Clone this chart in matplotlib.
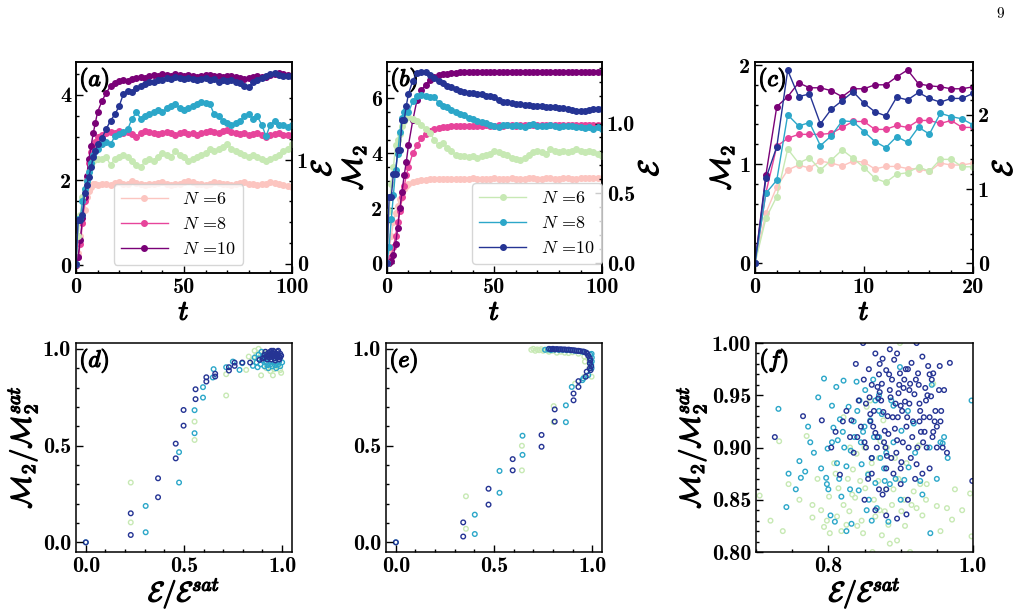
import matplotlib
matplotlib.use("Agg")
import matplotlib.pyplot as plt
import matplotlib.patheffects as pe
from matplotlib.ticker import MultipleLocator, AutoMinorLocator

plt.rcParams["mathtext.fontset"] = "cm"
plt.rcParams["font.family"] = "cmb10"
plt.rcParams["axes.unicode_minus"] = False
plt.rcParams["axes.linewidth"] = 1.1

# colours (M2 family / epsilon family)
col_m6, col_m8, col_m10 = "#fcc5c0", "#e7449b", "#7a0177"
col_e6, col_e8, col_e10 = "#c7e9b4", "#2ca7c9", "#253494"

# ---------------- data: time panels ----------------
t_long = list(range(11)) + list(range(12, 101, 2))
t_short = list(range(21))

# panel (a)
a_m6 = [0, 0.3, 0.7, 1.0, 1.3, 1.6, 1.75, 1.85, 1.9, 1.9, 1.88,
        1.90, 1.92, 1.88, 1.93, 1.95, 1.90, 1.92, 1.97, 1.93, 1.90,
        1.88, 1.92, 1.90, 1.93, 1.95, 1.90, 1.88, 1.90, 1.92, 1.95,
        1.98, 1.95, 1.92, 1.90, 1.88, 1.92, 1.95, 1.93, 1.90, 1.92,
        1.88, 1.90, 1.93, 1.95, 1.92, 1.90, 1.88, 1.90, 1.92, 1.95,
        1.93, 1.90, 1.88, 1.87, 1.85]
a_m8 = [0, 0.2, 0.5, 1.0, 1.5, 2.0, 2.4, 2.65, 2.8, 2.9, 3.0,
        3.05, 3.10, 3.12, 3.10, 3.15, 3.10, 3.12, 3.08, 3.00, 3.10,
        3.15, 3.12, 3.10, 3.08, 3.10, 3.12, 3.10, 3.05, 3.10, 3.12,
        3.08, 3.10, 3.05, 3.10, 3.12, 3.15, 3.12, 3.10, 3.15, 3.18,
        3.12, 3.10, 3.08, 3.10, 3.05, 3.08, 3.10, 3.05, 3.02, 3.05,
        3.08, 3.10, 3.05, 3.05, 3.05]
a_m10 = [0, 0.2, 0.6, 1.1, 1.6, 2.1, 2.5, 2.8, 3.1, 3.35, 3.6,
         3.85, 4.05, 4.20, 4.28, 4.32, 4.35, 4.33, 4.38, 4.40, 4.42,
         4.40, 4.45, 4.47, 4.45, 4.48, 4.47, 4.45, 4.48, 4.46, 4.45,
         4.47, 4.45, 4.43, 4.45, 4.47, 4.46, 4.44, 4.45, 4.43, 4.44,
         4.45, 4.43, 4.40, 4.37, 4.40, 4.42, 4.45, 4.43, 4.42, 4.47,
         4.50, 4.52, 4.48, 4.47, 4.45]
a_e6 = [0, 0.27, 0.47, 0.64, 0.72, 0.80, 0.88, 0.95, 0.99, 1.01, 1.01,
        1.01, 1.03, 0.95, 1.01, 1.03, 1.05, 1.03, 0.99, 0.95, 0.93,
        0.99, 1.01, 0.99, 1.03, 1.07, 1.05, 1.03, 1.09, 1.05, 1.03,
        0.99, 1.01, 1.03, 1.05, 1.07, 1.11, 1.09, 1.11, 1.13, 1.15,
        1.11, 1.09, 1.07, 1.05, 1.03, 1.05, 1.03, 1.01, 0.99, 1.01,
        1.03, 1.05, 1.09, 1.11, 1.15]
a_e8 = [0, 0.43, 0.43, 0.60, 0.72, 0.80, 0.88, 0.97, 1.05, 1.09, 1.11,
        1.15, 1.17, 1.15, 1.23, 1.25, 1.27, 1.30, 1.40, 1.46, 1.40,
        1.42, 1.44, 1.46, 1.48, 1.46, 1.50, 1.52, 1.54, 1.50, 1.48,
        1.50, 1.52, 1.54, 1.56, 1.55, 1.54, 1.44, 1.42, 1.38, 1.36,
        1.34, 1.36, 1.38, 1.42, 1.44, 1.40, 1.42, 1.34, 1.23, 1.34,
        1.38, 1.34, 1.34, 1.32, 1.34]
a_e10 = [0, 0.42, 0.42, 0.47, 0.68, 0.76, 0.84, 0.93, 1.03, 1.09, 1.15,
         1.21, 1.30, 1.38, 1.44, 1.52, 1.64, 1.67, 1.66, 1.69, 1.71,
         1.73, 1.75, 1.75, 1.77, 1.77, 1.79, 1.78, 1.80, 1.79, 1.78,
         1.79, 1.78, 1.77, 1.78, 1.79, 1.77, 1.78, 1.75, 1.77, 1.76,
         1.77, 1.75, 1.74, 1.71, 1.70, 1.75, 1.77, 1.79, 1.81, 1.83,
         1.84, 1.82, 1.81, 1.81, 1.81]

# panel (b)
b_m6 = [0, 0.5, 1.0, 1.5, 1.85, 2.1, 2.35, 2.55, 2.7, 2.8, 2.87,
        2.95, 3.00, 3.02, 3.04, 3.05, 3.06, 3.05, 3.07, 3.08, 3.06,
        3.07, 3.08, 3.06, 3.08, 3.09, 3.07, 3.08, 3.06, 3.07, 3.09,
        3.08, 3.06, 3.07, 3.09, 3.08, 3.07, 3.08, 3.10, 3.09, 3.08,
        3.07, 3.09, 3.10, 3.08, 3.07, 3.09, 3.10, 3.08, 3.07, 3.09,
        3.10, 3.11, 3.09, 3.10, 3.12]
b_m8 = [0, 0.1, 0.25, 0.6, 1.0, 1.5, 1.9, 2.4, 2.8, 3.2, 3.5,
        4.00, 4.30, 4.55, 4.70, 4.80, 4.87, 4.92, 4.95, 4.97, 4.98,
        4.99, 5.00, 5.00, 5.01, 5.00, 5.01, 5.01, 5.02, 5.01, 5.01,
        5.02, 5.01, 5.02, 5.02, 5.01, 5.02, 5.02, 5.03, 5.02, 5.02,
        5.03, 5.02, 5.02, 5.03, 5.02, 5.03, 5.02, 5.03, 5.03, 5.02,
        5.03, 5.03, 5.02, 5.03, 5.03]
b_m10 = [0, 0.0, 0.1, 0.3, 0.7, 1.3, 2.0, 2.6, 3.2, 3.7, 4.3,
         5.20, 5.95, 6.30, 6.50, 6.68, 6.78, 6.84, 6.88, 6.90, 6.92,
         6.93, 6.94, 6.95, 6.95, 6.96, 6.96, 6.96, 6.97, 6.97, 6.97,
         6.97, 6.97, 6.97, 6.97, 6.97, 6.97, 6.97, 6.97, 6.97, 6.97,
         6.97, 6.97, 6.97, 6.97, 6.97, 6.97, 6.97, 6.97, 6.97, 6.97,
         6.97, 6.97, 6.97, 6.97, 6.97]
b_e6 = [0, 0.373, 0.570, 0.687, 0.844, 0.884, 0.922, 0.981, 1.021, 1.041, 1.050,
        1.030, 1.021, 0.991, 0.962, 0.932, 0.884, 0.844, 0.864, 0.824, 0.805,
        0.776, 0.765, 0.765, 0.761, 0.765, 0.756, 0.765, 0.776, 0.785, 0.805,
        0.795, 0.785, 0.776, 0.756, 0.745, 0.736, 0.756, 0.776, 0.795, 0.805,
        0.795, 0.785, 0.815, 0.805, 0.795, 0.805, 0.795, 0.805, 0.815, 0.805,
        0.795, 0.805, 0.795, 0.785, 0.765]
b_e8 = [0, 0.118, 0.314, 0.491, 0.667, 0.785, 0.94, 1.041, 1.079, 1.099, 1.079,
        1.158, 1.198, 1.207, 1.198, 1.187, 1.187, 1.148, 1.128, 1.119, 1.099,
        1.079, 1.070, 1.059, 1.040, 1.030, 1.021, 1.011, 1.001, 0.991, 0.981,
        0.972, 0.991, 0.991, 0.981, 0.991, 0.981, 0.978, 0.991, 0.996, 0.981,
        0.985, 0.981, 0.991, 0.981, 0.978, 0.981, 0.985, 0.981, 0.972, 0.978,
        0.965, 0.972, 0.962, 0.972, 0.962]
b_e10 = [0.0, 0.475, 0.475, 0.642, 0.642, 0.808, 0.808, 1.025, 1.025, 1.128, 1.213,
         1.307, 1.363, 1.372, 1.368, 1.344, 1.325, 1.307, 1.288, 1.269, 1.260,
         1.250, 1.231, 1.227, 1.217, 1.217, 1.208, 1.208, 1.199, 1.199, 1.189,
         1.166, 1.156, 1.154, 1.147, 1.142, 1.137, 1.135, 1.131, 1.128, 1.123,
         1.123, 1.119, 1.119, 1.115, 1.111, 1.109, 1.103, 1.100, 1.093, 1.089,
         1.089, 1.095, 1.103, 1.105, 1.107]

# panel (c)
c_m6 = [0, 0.505, 0.77, 0.94, 0.99, 0.96, 1.03, 1.01, 0.98, 1.03, 1.02,
        0.95, 0.976, 0.976, 0.955, 0.95, 0.925, 1.01, 0.99, 0.99, 1.01]
c_m8 = [0, 0.71, 1.18, 1.26, 1.30, 1.30, 1.30, 1.31, 1.37, 1.43, 1.43,
        1.35, 1.35, 1.39, 1.37, 1.44, 1.44, 1.41, 1.44, 1.37, 1.37]
c_m10 = [0, 0.89, 1.58, 1.68, 1.82, 1.77, 1.77, 1.74, 1.68, 1.76, 1.76,
         1.80, 1.80, 1.88, 1.95, 1.81, 1.79, 1.78, 1.76, 1.76, 1.78]
c_e6 = [0, 0.606, 0.9, 1.54, 1.35, 1.42, 1.257, 1.39, 1.527, 1.415, 1.29,
        1.146, 1.09, 1.2, 1.22, 1.30, 1.24, 1.40, 1.40, 1.30, 1.30]
c_e8 = [0, 0.943, 1.12, 2.0, 1.85, 1.895, 1.585, 1.716, 1.918, 1.908, 1.774,
        1.64, 1.558, 1.706, 1.63, 1.833, 1.74, 2.02, 1.976, 1.945, 1.864]
c_e10 = [0, 1.145, 1.57, 2.60, 2.245, 2.28, 1.877, 2.075, 2.19, 2.31, 2.156,
         2.04, 1.985, 2.237, 2.20, 2.30, 2.22, 2.17, 2.22, 2.22, 2.29]

# ---------------- data: scatter panels ----------------
d_e6_x = [0.229, 0.229, 0.554, 0.554, 0.715, 0.715, 0.817, 0.86, 0.87, 0.88, 0.893,
          0.90, 0.91, 0.953, 0.995, 0.92, 0.94, 0.96, 0.98, 0.85, 0.83, 0.99]
d_e6_y = [0.309, 0.103, 0.624, 0.529, 0.759, 0.869, 0.891, 0.99, 0.97, 1.0, 0.863,
          0.95, 0.98, 0.863, 0.876, 0.90, 0.885, 0.895, 0.91, 0.94, 0.96, 0.89]
d_e8_x = [0, 0.305, 0.305, 0.475, 0.475, 0.554, 0.554, 0.597, 0.597, 0.647, 0.651,
          0.715, 0.749, 0.783, 0.797, 0.851, 0.87, 0.88, 0.89, 0.90, 0.91, 0.92,
          0.93, 0.94, 0.95, 0.96, 0.97, 0.98, 0.99, 1.0, 0.88, 0.895, 0.905, 0.925,
          0.945, 0.965, 0.985, 0.86, 0.875, 0.915]
d_e8_y = [0, 0.052, 0.188, 0.309, 0.466, 0.564, 0.683, 0.748, 0.802, 0.852, 0.895,
          0.905, 0.934, 0.891, 0.926, 0.912, 0.93, 0.95, 0.92, 0.94, 0.91, 0.93,
          0.90, 0.92, 0.91, 0.93, 0.90, 0.92, 0.91, 0.93, 0.97, 0.985, 0.96, 0.915,
          0.935, 0.915, 0.935, 0.955, 0.905, 0.945]
d_e10_x = [0, 0.229, 0.229, 0.368, 0.368, 0.458, 0.458, 0.498, 0.498, 0.559, 0.559,
           0.614, 0.614, 0.659, 0.659, 0.729, 0.729, 0.758, 0.758, 0.797, 0.837, 0.885,
           0.90, 0.91, 0.92, 0.93, 0.935, 0.94, 0.945, 0.95, 0.955, 0.96, 0.96, 0.965,
           0.97, 0.975, 0.98, 0.985, 0.99, 0.995, 0.925, 0.945, 0.965, 0.985, 0.91,
           0.93, 0.95, 0.97, 0.99, 0.955, 0.975, 0.94, 0.915, 0.98]
d_e10_y = [0, 0.15, 0.038, 0.331, 0.233, 0.51, 0.434, 0.684, 0.603, 0.74, 0.791,
           0.831, 0.853, 0.871, 0.857, 0.905, 0.888, 0.929, 0.912, 0.929, 0.929, 0.943,
           0.95, 0.97, 0.96, 0.98, 0.955, 0.97, 0.99, 0.96, 0.975, 0.95, 0.985, 0.965,
           0.975, 0.955, 0.97, 0.96, 0.975, 0.965, 0.945, 0.945, 0.94, 0.945, 0.955,
           0.965, 0.98, 0.96, 0.955, 0.99, 0.985, 0.985, 0.985, 0.99]

e_e6_x = [0.357, 0.357, 0.642, 0.642, 0.804, 0.804, 0.913, 0.96, 0.997, 0.963,
          0.69, 0.70, 0.71, 0.72, 0.73, 0.74, 0.75, 0.76, 0.77, 0.78, 0.79, 0.80,
          0.82, 0.84, 0.86, 0.88, 0.90, 0.93, 0.96, 0.98, 0.99, 0.985]
e_e6_y = [0.07, 0.238, 0.499, 0.372, 0.704, 0.621, 0.82, 0.856, 0.856, 0.934,
          0.995, 1.0, 0.99, 0.997, 0.993, 0.998, 0.99, 0.996, 0.992, 0.985, 0.995, 0.99,
          0.98, 0.985, 0.98, 0.978, 0.982, 0.975, 0.96, 0.95, 0.92, 0.90]
e_e8_x = [0, 0.402, 0.402, 0.528, 0.528, 0.645, 0.645, 0.866, 0.866, 0.896, 0.95,
          0.98, 0.997, 0.955, 0.997, 0.76, 0.775, 0.79, 0.81, 0.83, 0.85, 0.87,
          0.89, 0.91, 0.93, 0.95, 0.97, 0.99, 0.998, 0.998, 0.995]
e_e8_y = [0, 0.043, 0.143, 0.256, 0.369, 0.452, 0.551, 0.621, 0.708, 0.803, 0.838,
          0.864, 0.9, 0.847, 0.974, 0.995, 0.997, 0.993, 0.996, 0.994, 0.995, 0.993,
          0.992, 0.99, 0.988, 0.985, 0.98, 0.97, 0.955, 0.935, 0.92]
e_e10_x = [0, 0.343, 0.343, 0.472, 0.472, 0.595, 0.595, 0.742, 0.742, 0.809, 0.809,
           0.905, 0.905, 0.93, 0.93, 0.967, 0.972, 0.988, 0.988, 0.988, 0.97, 0.955,
           0.78, 0.79, 0.80, 0.81, 0.82, 0.83, 0.84, 0.85, 0.86, 0.87, 0.88, 0.89,
           0.90, 0.91, 0.92, 0.93, 0.94, 0.96, 0.975, 0.98, 0.99, 0.995, 0.992]
e_e10_y = [0, 0.03, 0.103, 0.195, 0.277, 0.372, 0.43, 0.494, 0.555, 0.624, 0.687,
           0.734, 0.769, 0.803, 0.833, 0.856, 0.882, 0.899, 0.925, 0.951, 0.98, 0.986,
           1.0, 0.998, 1.0, 0.997, 0.999, 0.997, 0.998, 0.996, 0.997, 0.995, 0.996, 0.994,
           0.993, 0.992, 0.99, 0.99, 0.988, 0.984, 0.975, 0.965, 0.94, 0.91, 0.89]

f_e6_x = [0.705, 0.732, 0.737, 0.77, 0.778, 0.778, 0.794, 0.801, 0.802, 0.812, 0.814,
          0.821, 0.825, 0.829, 0.834, 0.837, 0.844, 0.848, 0.851, 0.858, 0.861, 0.865,
          0.869, 0.874, 0.878, 0.883, 0.885, 0.895, 0.899, 0.901, 0.908, 0.913, 0.918,
          0.922, 0.925, 0.927, 0.936, 0.945, 0.95, 0.964, 0.971, 0.996, 0.998, 0.872,
          0.881, 0.892, 0.839, 0.821, 0.853, 0.876, 0.81, 0.79, 0.86, 0.84, 0.905,
          0.93, 0.89,
          0.72, 0.745, 0.76, 0.785, 0.798, 0.808, 0.818, 0.827, 0.833, 0.846, 0.855,
          0.863, 0.871, 0.88, 0.888, 0.897, 0.906, 0.915, 0.935, 0.955, 0.975, 0.985,
          0.87, 0.85, 0.83]
f_e6_y = [0.854, 0.906, 0.82, 0.911, 0.833, 0.845, 0.824, 0.853, 0.818, 0.834, 0.861,
          0.845, 0.826, 0.839, 0.879, 0.852, 0.868, 0.818, 0.861, 0.945, 0.80, 0.834,
          0.868, 0.816, 0.839, 0.826, 0.808, 0.811, 1.0, 0.839, 0.885, 0.80, 0.858,
          0.842, 0.902, 0.865, 0.865, 0.961, 0.844, 0.842, 0.831, 0.856, 0.815, 0.906,
          0.90, 0.89, 0.894, 0.929, 0.939, 0.926, 0.875, 0.84, 0.885, 0.825, 0.85,
          0.835, 0.86,
          0.83, 0.865, 0.85, 0.87, 0.83, 0.885, 0.82, 0.87, 0.855, 0.83, 0.875,
          0.85, 0.84, 0.86, 0.845, 0.87, 0.825, 0.845, 0.85, 0.82, 0.86, 0.84,
          0.89, 0.9, 0.9]
f_e8_x = [0.731, 0.742, 0.76, 0.762, 0.768, 0.786, 0.794, 0.797, 0.798, 0.799, 0.803,
          0.807, 0.809, 0.811, 0.812, 0.813, 0.816, 0.818, 0.821, 0.825, 0.828, 0.831,
          0.832, 0.836, 0.839, 0.842, 0.846, 0.851, 0.853, 0.855, 0.858, 0.86, 0.862,
          0.865, 0.867, 0.872, 0.874, 0.878, 0.883, 0.885, 0.899, 0.901, 0.905, 0.911,
          0.918, 0.927, 0.941, 0.943, 0.955, 0.958, 0.998, 0.82, 0.845, 0.87, 0.89,
          0.85, 0.83, 0.88, 0.805, 0.775, 0.84, 0.865,
          0.745, 0.755, 0.772, 0.78, 0.79, 0.805, 0.815, 0.822, 0.835, 0.843, 0.848,
          0.856, 0.863, 0.87, 0.877, 0.887, 0.893, 0.9, 0.91, 0.92, 0.93, 0.94, 0.95,
          0.96, 0.965, 0.8, 0.825, 0.86, 0.89, 0.87]
f_e8_y = [0.937, 0.843, 0.887, 0.871, 0.877, 0.948, 0.966, 0.871, 0.865, 0.899, 0.835,
          0.919, 0.829, 0.958, 0.885, 0.907, 0.927, 0.853, 0.964, 0.882, 0.939, 0.897,
          0.827, 0.91, 0.963, 0.859, 0.884, 0.955, 0.84, 0.874, 0.926, 0.89, 0.965,
          0.866, 0.842, 0.89, 0.932, 0.868, 0.829, 0.865, 0.977, 0.916, 0.869, 0.881,
          0.923, 0.868, 0.818, 0.96, 0.905, 0.904, 0.945, 0.915, 0.905, 0.91, 0.94,
          0.92, 0.86, 0.895, 0.94, 0.905, 0.935, 0.945,
          0.875, 0.86, 0.92, 0.895, 0.88, 0.905, 0.87, 0.9, 0.925, 0.945, 0.915,
          0.85, 0.91, 0.935, 0.88, 0.945, 0.87, 0.85, 0.935, 0.895, 0.855, 0.9, 0.87,
          0.91, 0.89, 0.86, 0.82, 0.83, 0.905, 0.95]
f_e10_x = [0.726, 0.765, 0.791, 0.804, 0.832, 0.835, 0.838, 0.848, 0.849, 0.857, 0.858,
           0.862, 0.865, 0.867, 0.869, 0.871, 0.874, 0.876, 0.878, 0.880, 0.881, 0.883,
           0.885, 0.888, 0.889, 0.891, 0.893, 0.895, 0.896, 0.899, 0.901, 0.904, 0.906,
           0.908, 0.909, 0.911, 0.913, 0.915, 0.917, 0.919, 0.922, 0.922, 0.924, 0.926,
           0.928, 0.930, 0.932, 0.934, 0.936, 0.938, 0.940, 0.942, 0.944, 0.945, 0.948,
           0.950, 0.953, 0.954, 0.956, 0.958, 0.960, 0.964, 0.968, 0.999, 0.86, 0.855,
           0.87, 0.875, 0.88, 0.89, 0.90, 0.91, 0.92, 0.93, 0.94, 0.85, 0.865, 0.88,
           0.895, 0.84, 0.845, 0.85, 0.825, 0.83, 0.82, 0.81, 0.86, 0.87, 0.885, 0.90,
           0.905, 0.875, 0.865, 0.895, 0.91, 0.925, 0.935, 0.945, 0.95, 0.955, 0.816, 0.908,
           0.852, 0.858, 0.863, 0.868, 0.873, 0.877, 0.882, 0.886, 0.892, 0.897, 0.902,
           0.907, 0.912, 0.916, 0.921, 0.927, 0.931, 0.937, 0.943, 0.947, 0.852, 0.86,
           0.868, 0.879, 0.887, 0.894, 0.903, 0.914, 0.923, 0.933, 0.842, 0.856, 0.871,
           0.884, 0.898, 0.912, 0.926, 0.94, 0.88, 0.9]
f_e10_y = [0.910, 0.930, 0.926, 0.900, 0.926, 0.895, 0.980, 1.000, 0.965, 0.948, 0.932,
           0.920, 0.914, 0.900, 0.947, 0.953, 0.961, 0.934, 0.916, 0.974, 0.892, 0.913,
           0.994, 0.965, 0.929, 0.984, 0.942, 0.907, 0.929, 0.971, 0.886, 0.957, 0.944,
           0.920, 0.929, 0.900, 0.961, 0.981, 0.925, 0.951, 0.884, 1.000, 0.971, 0.942,
           0.915, 0.987, 0.929, 0.957, 0.900, 0.978, 0.929, 0.949, 0.910, 0.971, 0.935,
           0.920, 0.955, 0.978, 0.935, 0.900, 0.955, 0.895, 0.981, 0.868, 0.875, 0.87,
           0.86, 0.855, 0.88, 0.875, 0.88, 0.85, 0.87, 0.875, 0.88, 0.85, 0.84, 0.835,
           0.832, 0.91, 0.92, 0.905, 0.935, 0.91, 0.925, 0.915, 0.96, 0.97, 0.955, 0.94,
           0.965, 0.985, 0.99, 0.99, 0.975, 0.96, 0.945, 0.915, 0.90, 0.925, 0.874, 0.836,
           0.942, 0.925, 0.935, 0.958, 0.945, 0.905, 0.93, 0.948, 0.918, 0.952, 0.935,
           0.975, 0.942, 0.91, 0.965, 0.935, 0.905, 0.95, 0.965, 0.925, 0.9, 0.89,
           0.91, 0.9, 0.89, 0.895, 0.905, 0.89, 0.9, 0.915, 0.945, 0.975, 0.98,
           0.97, 0.96, 0.955, 0.925, 0.97, 0.86, 0.865]

labels_n = [r"$N$ =6", r"$N$ =8", r"$N$ =10"]

bold = [pe.withStroke(linewidth=0.9, foreground="black")]
LAB = 20
TICK = 16


def style(ax, xmajor, ymajor):
    ax.xaxis.set_major_locator(MultipleLocator(xmajor))
    ax.yaxis.set_major_locator(MultipleLocator(ymajor))
    ax.xaxis.set_minor_locator(AutoMinorLocator())
    ax.yaxis.set_minor_locator(AutoMinorLocator())
    ax.tick_params(which="both", direction="in", labelsize=TICK, width=1)
    ax.tick_params(which="major", length=5)
    ax.tick_params(which="minor", length=2.5)


def panel_label(ax, s):
    ax.text(0.015, 0.985, s, transform=ax.transAxes, ha="left", va="top",
            fontsize=17, path_effects=bold, zorder=10)


def time_panel(rect, t, left, right, ylim_l, ylim_r, xlim, xmaj, ymaj_l, ymaj_r,
               letter, left_label=True, legend=None):
    ax = fig.add_axes(rect)
    for y, c in left:
        ax.plot(t, y, "-o", color=c, lw=1, ms=4)
    ax.set_xlim(*xlim)
    ax.set_ylim(*ylim_l)
    style(ax, xmaj, ymaj_l)
    ax.set_xlabel(r"$t$", fontsize=LAB, labelpad=2, path_effects=bold)
    if left_label:
        ax.set_ylabel(r"$\mathcal{M}_\mathbf{2}$", fontsize=LAB, labelpad=2, path_effects=bold)
    ax2 = ax.twinx()
    for y, c in right:
        ax2.plot(t, y, "-o", color=c, lw=1, ms=4)
    ax2.set_ylim(*ylim_r)
    style(ax2, xmaj, ymaj_r)
    ax2.set_ylabel(r"$\mathcal{E}$", fontsize=LAB, labelpad=2, path_effects=bold)
    panel_label(ax, letter)
    leg_kw = dict(loc="lower right", prop={"family": "cmr10", "size": 13},
                  handlelength=2.6, numpoints=1, borderaxespad=0, edgecolor="0.8")
    if legend == "left":
        ax.legend(ax.get_lines(), labels_n, bbox_to_anchor=(0.775, 0.04), **leg_kw)
    elif legend == "right":
        ax2.legend(ax2.get_lines(), labels_n, bbox_to_anchor=(1.0, 0.045), **leg_kw)
    return ax


def scatter_panel(rect, pts, xlim, ylim, xmaj, ymaj, letter, labels=True):
    ax = fig.add_axes(rect)
    for x, y, c in pts:
        ax.scatter(x, y, s=11, facecolors="none", edgecolors=c, linewidths=1.0)
    ax.set_xlim(*xlim)
    ax.set_ylim(*ylim)
    style(ax, xmaj, ymaj)
    if labels:
        ax.set_xlabel(r"$\mathcal{E}/\mathcal{E}^{sat}$", fontsize=LAB, labelpad=0,
                      path_effects=bold)
        ax.set_ylabel(r"$\mathcal{M}_\mathbf{2}/\mathcal{M}_\mathbf{2}^{sat}$", fontsize=LAB,
                      labelpad=2, path_effects=bold)
    panel_label(ax, letter)
    return ax


fig = plt.figure(figsize=(10.24, 6.13), dpi=100)

time_panel([0.0742, 0.5546, 0.2109, 0.3442], t_long,
           [(a_m6, col_m6), (a_m8, col_m8), (a_m10, col_m10)],
           [(a_e6, col_e6), (a_e8, col_e8), (a_e10, col_e10)],
           (-0.18, 4.77), (-0.09, 1.945), (0, 100), 50, 2, 1, r"$(a)$",
           left_label=False, legend="left")

time_panel([0.3779, 0.5546, 0.2100, 0.3442], t_long,
           [(b_m6, col_m6), (b_m8, col_m8), (b_m10, col_m10)],
           [(b_e6, col_e6), (b_e8, col_e8), (b_e10, col_e10)],
           (-0.35, 7.32), (-0.07, 1.44), (0, 100), 50, 2, 0.5, r"$(b)$",
           legend="right")

time_panel([0.7373, 0.5546, 0.2129, 0.3442], t_short,
           [(c_m6, col_m6), (c_m8, col_m8), (c_m10, col_m10)],
           [(c_e6, col_e6), (c_e8, col_e8), (c_e10, col_e10)],
           (-0.1, 2.03), (-0.13, 2.71), (0, 20), 10, 1, 1, r"$(c)$")

scatter_panel([0.0742, 0.0995, 0.2109, 0.3409],
              [(d_e6_x, d_e6_y, col_e6), (d_e8_x, d_e8_y, col_e8), (d_e10_x, d_e10_y, col_e10)],
              (-0.05, 1.05), (-0.05, 1.03), 0.5, 0.5, r"$(d)$")
scatter_panel([0.3770, 0.0995, 0.2109, 0.3409],
              [(e_e6_x, e_e6_y, col_e6), (e_e8_x, e_e8_y, col_e8), (e_e10_x, e_e10_y, col_e10)],
              (-0.05, 1.05), (-0.05, 1.03), 0.5, 0.5, r"$(e)$", labels=False)
scatter_panel([0.7383, 0.0995, 0.2119, 0.3409],
              [(f_e6_x, f_e6_y, col_e6), (f_e8_x, f_e8_y, col_e8), (f_e10_x, f_e10_y, col_e10)],
              (0.7, 1.0), (0.8, 1.0), 0.2, 0.05, r"$(f)$")

fig.text(0.977, 0.977, "9", fontsize=11, family="cmr10", ha="center", va="center")

fig.savefig("out.png", dpi=100)
